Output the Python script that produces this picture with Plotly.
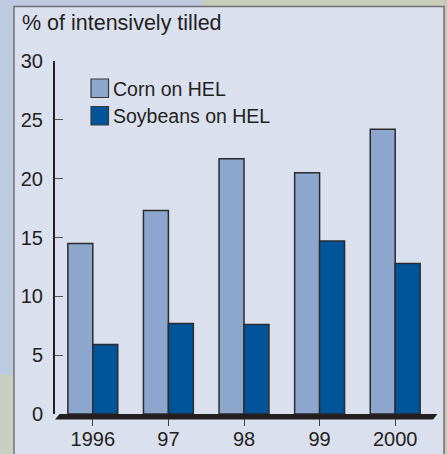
import plotly.graph_objects as go

# Share of intensively tilled acreage on highly erodible land (HEL)
years = ["1996", "97", "98", "99", "2000"]
corn_hel = [14.5, 17.3, 21.7, 20.5, 24.2]
soy_hel = [5.9, 7.7, 7.6, 14.7, 12.8]
series_names = ["Corn on HEL", "Soybeans on HEL"]
series_colors = ["#8ca6cd", "#00559a"]

W, H = 447, 454
L, R, T, B = 55, 14, 61, 40
PW, PH = W - L - R, H - T - B


def px(x):
    return (x - L) / PW


def py(y):
    return (H - B - y) / PH


TEXT = "#231f20"
FONT = "Liberation Sans, Arial, sans-serif"

fig = go.Figure()
for name, vals, col in zip(series_names, [corn_hel, soy_hel], series_colors):
    fig.add_trace(go.Bar(
        x=years, y=vals, name=name,
        marker=dict(color=col, line=dict(color="#2b2b2b", width=1.5)),
        showlegend=False,
    ))

shapes = [
    # outer photo-like strips
    dict(type="rect", xref="paper", yref="paper", x0=px(203), x1=px(447), y0=py(0), y1=py(7),
         fillcolor="#c9cdb9", line_width=0, layer="below"),
    dict(type="rect", xref="paper", yref="paper", x0=px(443), x1=px(447), y0=py(0), y1=py(454),
         fillcolor="#c4cab6", line_width=0, layer="below"),
    dict(type="rect", xref="paper", yref="paper", x0=px(0), x1=px(14), y0=py(375), y1=py(454),
         fillcolor="#c9d0c2", line_width=0, layer="below"),
    # light panel
    dict(type="rect", xref="paper", yref="paper", x0=px(14), x1=px(444), y0=py(6.5), y1=py(470),
         fillcolor="#dbe0ee", line=dict(color="#6f7073", width=1.5), layer="below"),
    # dark floor under the bars
    dict(type="path", xref="paper", yref="paper",
         path=f"M {px(55)},{py(419.5)} L {px(433)},{py(419.5)} L {px(437.5)},{py(414)} L {px(59.5)},{py(414)} Z",
         fillcolor="#231f20", line_width=0, layer="above"),
]

annotations = [
    dict(text="% of intensively tilled", xref="paper", yref="paper", x=px(20), y=py(23),
         xanchor="left", yanchor="middle", showarrow=False,
         font=dict(family=FONT, size=21.5, color=TEXT)),
]

# legend swatches and labels
for i, (name, col) in enumerate(zip(series_names, series_colors)):
    y0 = 79 + i * 27.5
    shapes.append(dict(type="rect", xref="paper", yref="paper",
                       x0=px(91), x1=px(108.5), y0=py(y0), y1=py(y0 + 18.5),
                       fillcolor=col, line=dict(color="#3a3a3a", width=1.2)))
    annotations.append(dict(text=name, xref="paper", yref="paper", x=px(111), y=py(y0 + 9.5),
                            xanchor="left", yanchor="middle", showarrow=False,
                            font=dict(family=FONT, size=19.5, color=TEXT)))

fig.update_layout(
    width=W, height=H,
    margin=dict(l=L, r=R, t=T, b=B),
    paper_bgcolor="#bdcae1",
    plot_bgcolor="rgba(0,0,0,0)",
    barmode="group", bargap=0.34, bargroupgap=0,
    shapes=shapes, annotations=annotations,
    font=dict(family=FONT, size=20, color=TEXT),
)
fig.update_yaxes(
    range=[0, 30], dtick=5, showgrid=False, zeroline=False, automargin=False,
    showline=True, linecolor=TEXT, linewidth=2,
    ticks="inside", ticklen=8, tickwidth=1, tickcolor="#555",
    ticklabelstandoff=6,
    tickfont=dict(family=FONT, size=20, color=TEXT),
)
fig.update_xaxes(
    showgrid=False, zeroline=False, showline=False, automargin=False,
    ticks="outside", ticklen=11, tickwidth=1, tickcolor="#444",
    ticklabelstandoff=-4,
    tickfont=dict(family=FONT, size=20, color=TEXT),
)

fig.write_html("out.html")
